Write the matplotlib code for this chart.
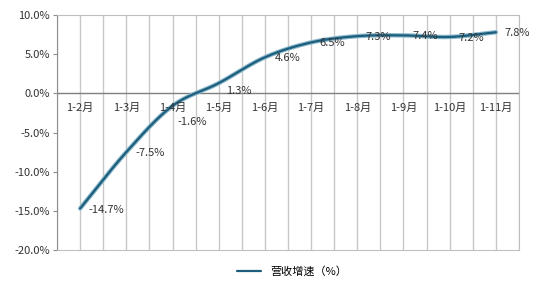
import numpy as np
import matplotlib
matplotlib.use("Agg")
import matplotlib.pyplot as plt

plt.rcParams['font.family'] = ['Noto Sans CJK SC', 'DejaVu Sans']

months = ["1-2月", "1-3月", "1-4月", "1-5月", "1-6月", "1-7月", "1-8月", "1-9月", "1-10月", "1-11月"]
growth = [-14.7, -7.5, -1.6, 1.3, 4.6, 6.5, 7.3, 7.4, 7.2, 7.8]
labels = ["-14.7%", "-7.5%", "-1.6%", "1.3%", "4.6%", "6.5%", "7.3%", "7.4%", "7.2%", "7.8%"]
# label offsets in pixels (dx, dy)
offs = [(8, -2), (9, -1), (5, -16), (7, -8), (10, -1), (8, -1), (8, -1), (9, -1), (9, -1), (9, -1)]


def smooth(x, y, n=20):
    # Catmull-Rom spline through the points
    x = np.asarray(x, float); y = np.asarray(y, float)
    px = np.concatenate([[2*x[0]-x[1]], x, [2*x[-1]-x[-2]]])
    py = np.concatenate([[2*y[0]-y[1]], y, [2*y[-1]-y[-2]]])
    xs, ys = [], []
    for i in range(1, len(px)-2):
        t = np.linspace(0, 1, n, endpoint=False)
        for arr, out in ((px, xs), (py, ys)):
            p0, p1, p2, p3 = arr[i-1], arr[i], arr[i+1], arr[i+2]
            out.extend(0.5*((2*p1) + (-p0+p2)*t + (2*p0-5*p1+4*p2-p3)*t**2 + (-p0+3*p1-3*p2+p3)*t**3))
    xs.append(x[-1]); ys.append(y[-1])
    return np.array(xs), np.array(ys)


fig = plt.figure(figsize=(5.41, 2.96), dpi=100)
ax = fig.add_axes([0.1054, 0.1554, 0.8539, 0.7939])

x = np.arange(len(months))
sx, sy = smooth(x, growth)
ax.plot(sx, sy, color="#8ab8cc", lw=3.2, solid_capstyle="round", zorder=3)
ax.plot(sx, sy, color="#1d5e7c", lw=1.6, solid_capstyle="round", zorder=4, label="营收增速（%）")

ax.set_xlim(-0.5, len(months)-0.5)
ax.set_ylim(-20, 10)
ax.set_yticks(np.arange(-20, 10.1, 5))
ax.set_yticklabels([f"{v:.1f}%" for v in np.arange(-20, 10.1, 5)], fontsize=8, color="#333333")
ax.set_xticks([])

for v in np.arange(-0.5, len(months), 0.5):
    ax.axvline(v, color="#c8c8c8", lw=1, zorder=1)
ax.axhline(0, color="#7f7f7f", lw=1, zorder=2)

for i, m in enumerate(months):
    ax.text(i, -1.9, m, ha="center", va="center", fontsize=8, color="#333333", zorder=5)

for i, (v, lab) in enumerate(zip(growth, labels)):
    ax.annotate(lab, (i, v), xytext=offs[i], textcoords="offset pixels",
                ha="left", va="center", fontsize=8, color="#333333", zorder=5)

for s in ax.spines.values():
    s.set_color("#bfbfbf")
ax.spines["left"].set_color("#8c8c8c")
ax.tick_params(axis="y", length=3, color="#8c8c8c", pad=2)

fig.legend(loc="lower center", bbox_to_anchor=(0.54, 0.03), frameon=False, fontsize=8,
           handlelength=2.2)

fig.savefig("out.png", dpi=100)
